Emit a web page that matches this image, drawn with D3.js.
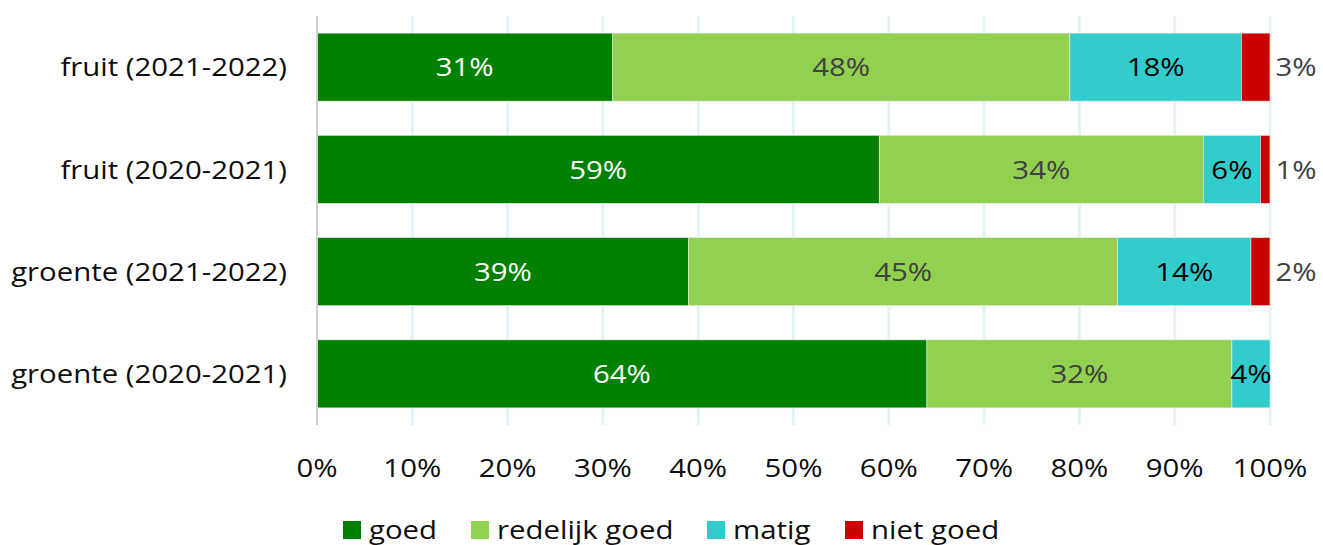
<!DOCTYPE html>
<html>
<head>
<meta charset="utf-8">
<script src="https://cdn.jsdelivr.net/npm/d3@7"></script>
<style>
  body { margin: 0; background: #fff; }
  svg { font-family: "Open Sans", sans-serif; display: block; }
</style>
</head>
<body>
<div id="chart"></div>
<script>
// categories, top to bottom
const categories = ["fruit (2021-2022)", "fruit (2020-2021)", "groente (2021-2022)", "groente (2020-2021)"];
const seriesNames = ["goed", "redelijk goed", "matig", "niet goed"];
// percentages per series, in category order
const goed = [31, 59, 39, 64];
const redelijkGoed = [48, 34, 45, 32];
const matig = [18, 6, 14, 4];
const nietGoed = [3, 1, 2, 0];
const tickValues = [0, 10, 20, 30, 40, 50, 60, 70, 80, 90, 100];

const colors = ["#008000", "#92d050", "#33cccc", "#cc0000"];
const labelColors = ["#ffffff", "#404040", "#000000", "#404040"];

const width = 1323, height = 545;
const margin = { top: 16, right: 53, bottom: 120, left: 317 };
const innerW = width - margin.left - margin.right,
      innerH = height - margin.top - margin.bottom;
const stretch = 1.13; // text in the original is rendered a bit wide

const rows = categories.map((c, i) => ({
  cat: c, goed: goed[i], "redelijk goed": redelijkGoed[i], matig: matig[i], "niet goed": nietGoed[i]
}));
const stacked = d3.stack().keys(seriesNames)(rows);

const svg = d3.select("#chart")
  .append("svg")
  .attr("width", width)
  .attr("height", height);

const g = svg.append("g")
  .attr("transform", `translate(${margin.left},${margin.top})`);

const x = d3.scaleLinear().domain([0, 100]).range([0, innerW]);
const y = d3.scaleBand().domain(categories).range([0, innerH])
  .paddingInner(0.335).paddingOuter(0.1675);

function place(sel, fx, fy) {
  return sel.attr("transform", (d, i) => `translate(${fx(d, i)},${fy(d, i)}) scale(${stretch},1)`)
    .attr("dy", "0.36em")
    .style("font-size", "26px");
}

// gridlines
g.selectAll(".grid")
  .data(tickValues.filter(d => d > 0))
  .enter()
  .append("line")
  .attr("x1", d => x(d)).attr("x2", d => x(d))
  .attr("y1", 0).attr("y2", innerH)
  .attr("stroke", "#e3f4f6")
  .attr("stroke-width", 3);

// bars
const layer = g.selectAll(".layer")
  .data(stacked)
  .enter()
  .append("g")
  .attr("fill", (d, i) => colors[i]);

layer.selectAll("rect")
  .data(d => d)
  .enter()
  .append("rect")
  .attr("x", d => x(d[0]))
  .attr("y", d => y(d.data.cat))
  .attr("width", d => x(d[1]) - x(d[0]))
  .attr("height", y.bandwidth())
  .attr("stroke", "#e8e8e8")
  .attr("stroke-width", 0.6);

// value labels
stacked.forEach((s, si) => {
  place(g.selectAll(".lbl" + si)
    .data(s.filter(v => v[1] - v[0] > 0))
    .enter()
    .append("text"),
    d => si === 3 ? x(100) + 26 : x((d[0] + d[1]) / 2),
    d => y(d.data.cat) + y.bandwidth() / 2)
    .attr("text-anchor", "middle")
    .attr("fill", labelColors[si])
    .text(d => (d[1] - d[0]) + "%");
});

// left axis line
g.append("line")
  .attr("x1", 0).attr("x2", 0)
  .attr("y1", 0).attr("y2", innerH)
  .attr("stroke", "#d0d0d0")
  .attr("stroke-width", 2);

// category labels
place(g.selectAll(".cat")
  .data(categories)
  .enter()
  .append("text"),
  () => -30,
  d => y(d) + y.bandwidth() / 2)
  .attr("text-anchor", "end")
  .attr("fill", "#0d0d0d")
  .text(d => d);

// x tick labels
place(g.selectAll(".tick")
  .data(tickValues)
  .enter()
  .append("text"),
  d => x(d),
  () => innerH + 43)
  .attr("text-anchor", "middle")
  .attr("fill", "#0d0d0d")
  .text(d => d + "%");

// legend
const legendX = [343, 471, 707, 845];
const legend = svg.selectAll(".legend")
  .data(seriesNames)
  .enter()
  .append("g")
  .attr("transform", (d, i) => `translate(${legendX[i]},521)`);

legend.append("rect")
  .attr("width", 18).attr("height", 18)
  .attr("fill", (d, i) => colors[i]);

place(legend.append("text"), () => 26, () => 9)
  .attr("fill", "#0d0d0d")
  .text(d => d);
</script>
</body>
</html>
